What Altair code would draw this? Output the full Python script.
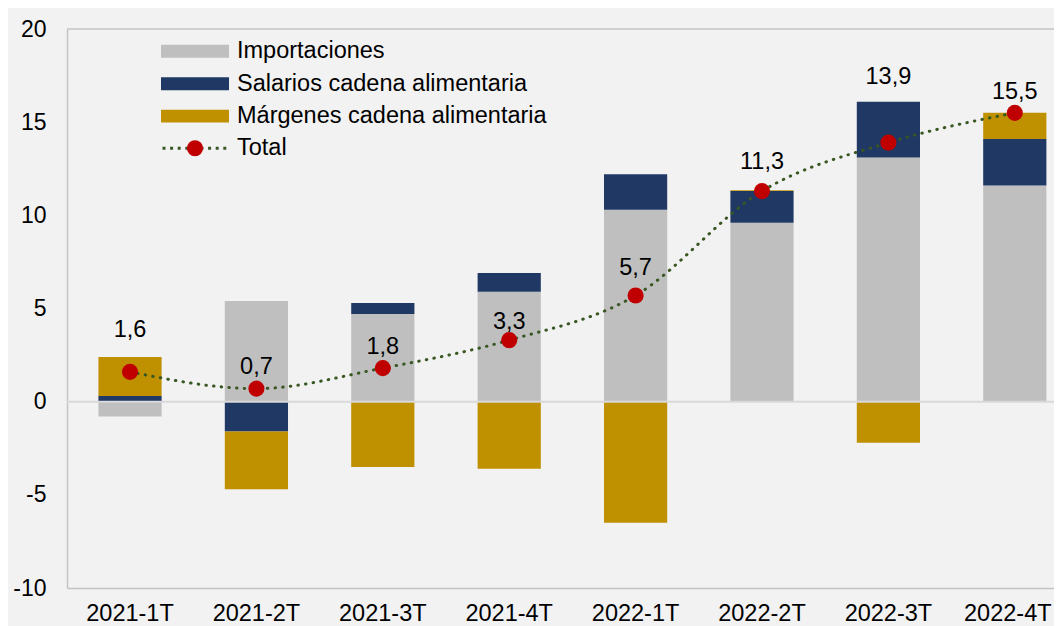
import altair as alt
import pandas as pd

# ---- data ----
periodos = ["2021-1T", "2021-2T", "2021-3T", "2021-4T",
            "2022-1T", "2022-2T", "2022-3T", "2022-4T"]
importaciones = [-0.8, 5.4, 4.7, 5.9, 10.3, 9.6, 13.1, 11.6]
salarios = [0.3, -1.6, 0.6, 1.0, 1.9, 1.7, 3.0, 2.5]
margenes = [2.1, -3.1, -3.5, -3.6, -6.5, 0.05, -2.2, 1.4]
total = [1.6, 0.7, 1.8, 3.3, 5.7, 11.3, 13.9, 15.5]
etiquetas = ["1,6", "0,7", "1,8", "3,3", "5,7", "11,3", "13,9", "15,5"]
etiqueta_pos = [3.85, 1.88, 2.93, 4.27, 7.2, 12.86, 17.44, 16.63]

series = ["Importaciones", "Salarios cadena alimentaria", "Márgenes cadena alimentaria"]
colores = ["#BFBFBF", "#203864", "#BF9000"]
y_ticks = [-10, -5, 0, 5, 10, 15, 20]

rows = []
for i, p in enumerate(periodos):
    for k, (s, vals) in enumerate(zip(series, [importaciones, salarios, margenes])):
        rows.append({"periodo": p, "serie": s, "valor": vals[i], "orden": k})
bars_df = pd.DataFrame(rows)
tot_df = pd.DataFrame({
    "periodo": periodos, "total": total, "etiqueta": etiquetas,
    "pos": etiqueta_pos, "linea": ["Total"] * len(periodos), "punto": ["Total"] * len(periodos),
})

FONT = "Liberation Sans"
BORDER = "#C4C4C4"
xscale = alt.Scale(domain=periodos, paddingInner=0.5, paddingOuter=0.1544, align=0.805)
yscale = alt.Scale(domain=[-10, 20], nice=False, zero=False)

x_enc = alt.X("periodo:N", scale=xscale, sort=periodos, title=None,
              axis=alt.Axis(labelAngle=0, labelFontSize=23.5, labelPadding=13, domain=True,
                            domainColor=BORDER, domainWidth=1.5,
                            labelOffset=alt.condition("datum.value == '2022-4T'",
                                                      alt.value(-7), alt.value(0)),
                            ticks=False, grid=False, labelColor="#000000", labelFont=FONT))
y_axis = alt.Axis(values=y_ticks, labelExpr="'' + datum.value", labelFontSize=23, labelPadding=21,
                  domain=True, domainColor=BORDER, domainWidth=1.5,
                  ticks=False, grid=False, labelColor="#000000", labelFont=FONT)

bars = alt.Chart(bars_df).mark_bar().encode(
    x=x_enc,
    y=alt.Y("valor:Q", scale=yscale, axis=y_axis, title=None, stack="zero"),
    fill=alt.Fill("serie:N", scale=alt.Scale(domain=series, range=colores),
                  legend=alt.Legend(orient="none", legendX=94, legendY=9.3, title=None,
                                    symbolType="M-1,-0.19L1,-0.19L1,0.19L-1,0.19Z",
                                    symbolSize=4624, symbolStrokeWidth=0, symbolOpacity=1,
                                    clipHeight=26, rowPadding=6.4, labelFontSize=23.5,
                                    labelFont=FONT, labelColor="#000000", labelOffset=8,
                                    padding=0, labelLimit=600)),
    order=alt.Order("orden:Q"),
)

zero = alt.Chart(pd.DataFrame({"y": [0]})).mark_rule(color="#D9D9D9", strokeWidth=2).encode(
    y=alt.Y("y:Q", scale=yscale)
)
top = alt.Chart(pd.DataFrame({"y": [20]})).mark_rule(color=BORDER, strokeWidth=1.5).encode(
    y=alt.Y("y:Q", scale=yscale)
)

line = alt.Chart(tot_df).mark_line(strokeWidth=3, strokeDash=[0.5, 7.2], strokeCap="round",
                                   interpolate="monotone").encode(
    x=x_enc,
    y=alt.Y("total:Q", scale=yscale),
    stroke=alt.Stroke("linea:N", scale=alt.Scale(domain=["Total"], range=["#385723"]),
                      legend=alt.Legend(orient="none", legendX=94, legendY=106.3, title=None,
                                        symbolType="stroke", symbolSize=4624,
                                        symbolStrokeWidth=3, symbolDash=[3, 4.6],
                                        clipHeight=26, labelOffset=5, labelFontSize=23.5,
                                        labelFont=FONT, labelColor="#000000", padding=0)),
)

pts = alt.Chart(tot_df).mark_point(filled=True, size=260, opacity=1, color="#C00000",
                                   strokeWidth=0).encode(
    x=x_enc,
    y=alt.Y("total:Q", scale=yscale),
    shape=alt.Shape("punto:N", scale=alt.Scale(domain=["Total"], range=["circle"]),
                    legend=alt.Legend(orient="none", legendX=116.25, legendY=106.3, title=None,
                                      labelExpr="''", symbolSize=260, symbolFillColor="#C00000",
                                      symbolStrokeWidth=0, symbolOpacity=1, clipHeight=26,
                                      labelFontSize=23.5, padding=0)),
)

txt = alt.Chart(tot_df).mark_text(fontSize=23.5, font=FONT, color="#000000",
                                  baseline="middle").encode(
    x=x_enc,
    y=alt.Y("pos:Q", scale=yscale),
    text="etiqueta:N",
)

chart = alt.layer(bars, zero, top, line, pts, txt).resolve_legend(
    fill="independent", stroke="independent", shape="independent"
).properties(
    width=987, height=559,
    autosize=alt.AutoSizeParams(type="none"),
    padding={"left": 59, "top": 21, "right": 0, "bottom": 38},
    background="#F2F2F2",
).configure_view(stroke=None)

chart.save("out.html", embed_options={"renderer": "svg", "actions": False})
